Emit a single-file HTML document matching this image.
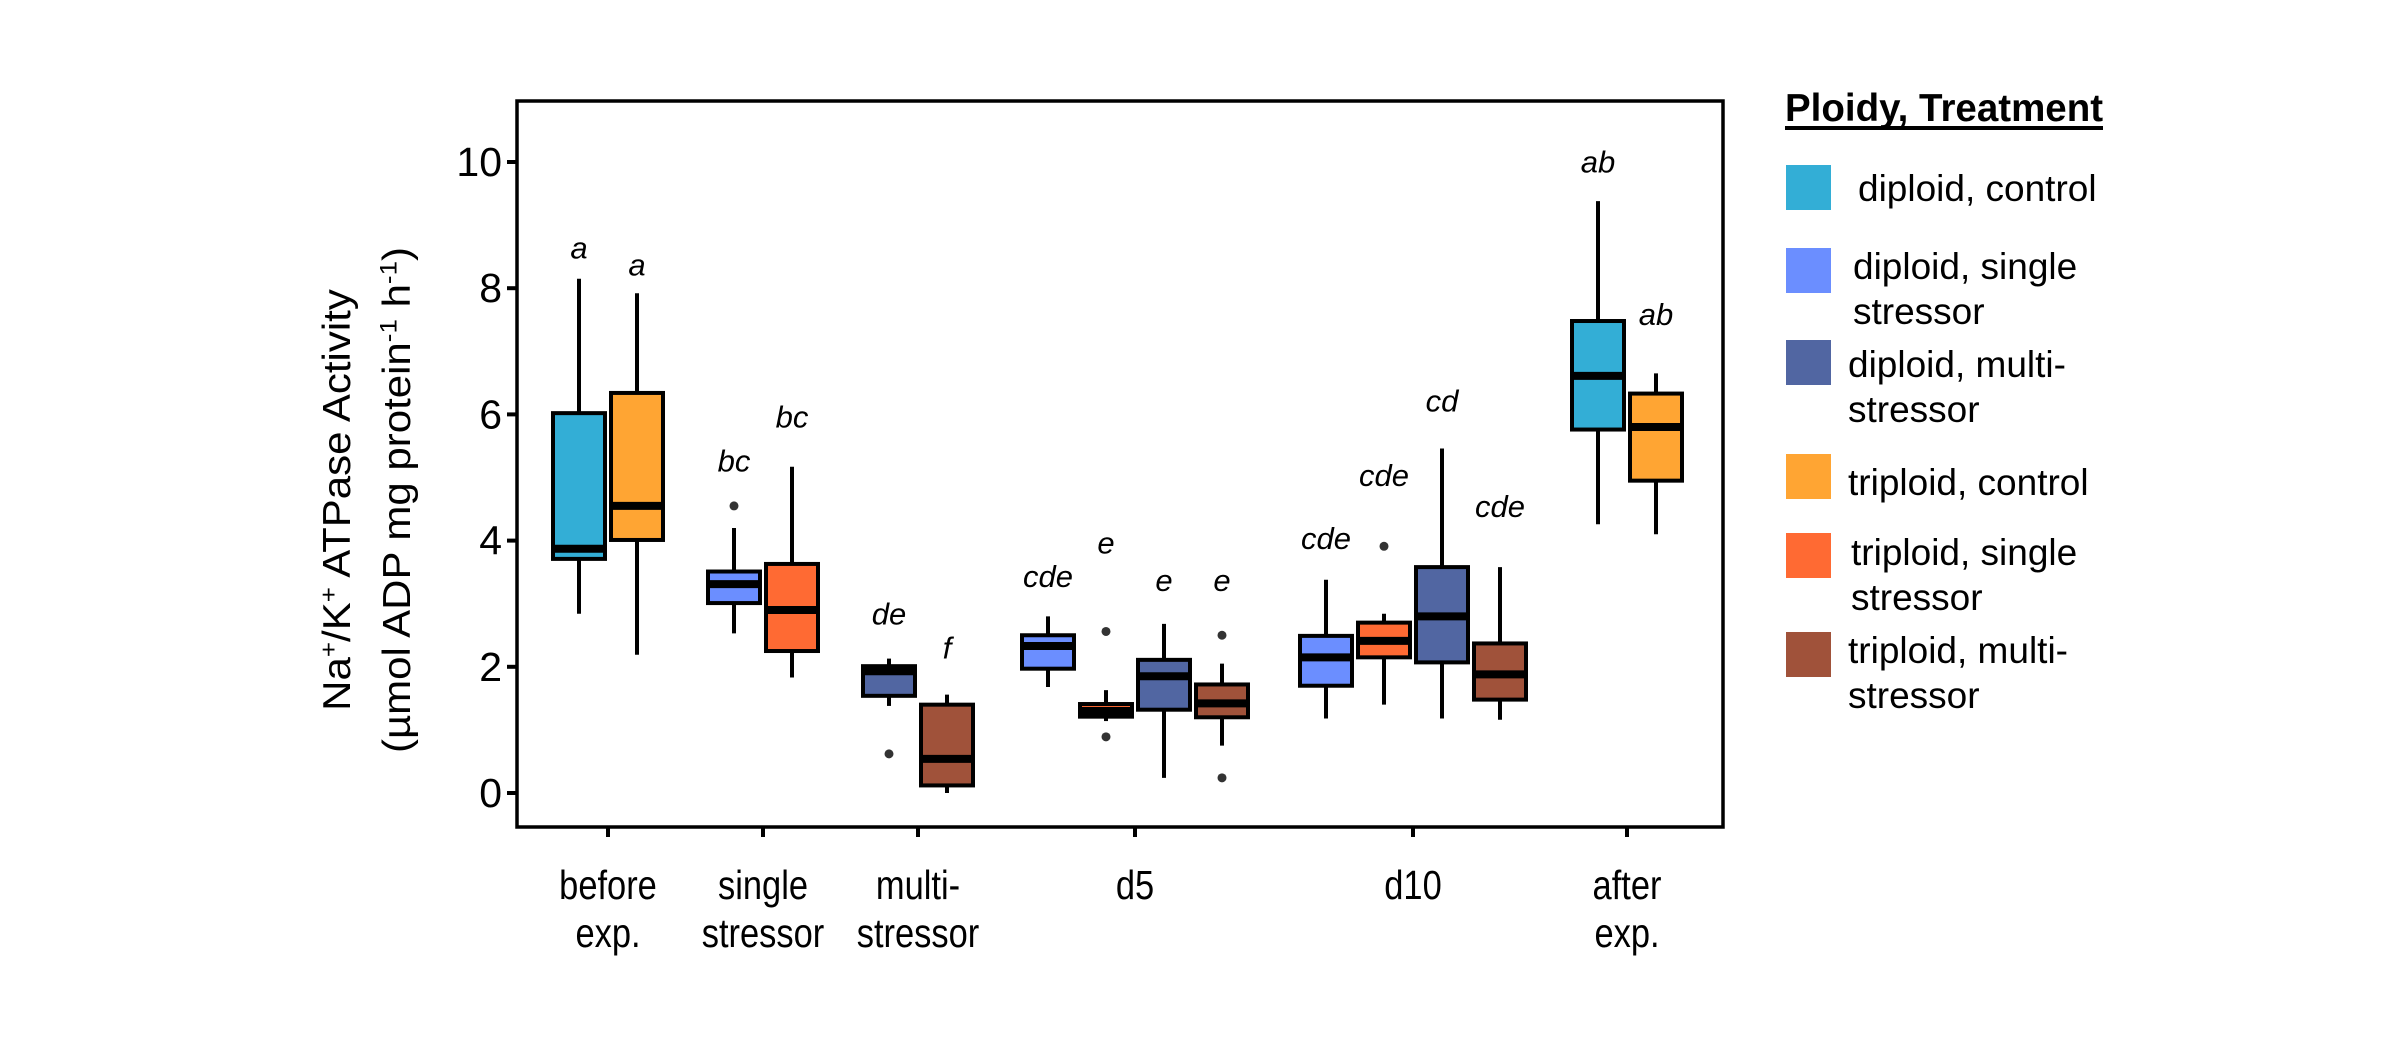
<!DOCTYPE html>
<html><head><meta charset="utf-8">
<style>
html,body{margin:0;padding:0;background:#fff;}
svg{display:block;font-family:"Liberation Sans",Arial,sans-serif;}
</style></head>
<body>
<svg id="chart" width="2400" height="1050" viewBox="0 0 2400 1050">
<rect x="0" y="0" width="2400" height="1050" fill="#fff"/>
<g id="boxes"></g>
<g id="yaxis"></g>
<g id="xaxis"></g>
<rect x="517" y="101" width="1206" height="726" fill="none" stroke="#000" stroke-width="3.5"/>
<g font-size="42" fill="#000" text-anchor="middle">
<text transform="translate(350,500) rotate(-90) scale(1,0.92)">Na<tspan baseline-shift="super" font-size="26">+</tspan>/K<tspan baseline-shift="super" font-size="26">+</tspan> ATPase Activity</text>
<text transform="translate(410,500) rotate(-90) scale(1,0.92)">(µmol ADP mg protein<tspan baseline-shift="super" font-size="26">-1</tspan> h<tspan baseline-shift="super" font-size="26">-1</tspan>)</text>
</g>
<g id="legend"></g>
</svg>
<script>
const categories = ["before exp.","single stressor","multi- stressor","d5","d10","after exp."];
const catLines = [["before","exp."],["single","stressor"],["multi-","stressor"],["d5"],["d10"],["after","exp."]];
const seriesNames = ["diploid, control","diploid, single stressor","diploid, multi- stressor","triploid, control","triploid, single stressor","triploid, multi- stressor"];
const seriesColors = ["#33AED6","#6B8EFF","#5166A2","#FFA533","#FF6A33","#A0523A"];
// each box: [category index, series index]
const boxCat =    [0,0, 1,1, 2,2, 3,3,3,3, 4,4,4,4, 5,5];
const boxSeries = [0,3, 1,4, 2,5, 1,4,2,5, 1,4,2,5, 0,3];
const wLow =  [2.84,2.19, 2.53,1.83, 1.38,0.00, 1.68,1.14,0.24,0.75, 1.18,1.40,1.18,1.16, 4.26,4.10];
const q1 =    [3.71,4.01, 3.01,2.25, 1.54,0.12, 1.97,1.21,1.32,1.20, 1.70,2.15,2.07,1.48, 5.76,4.95];
const med =   [3.87,4.55, 3.31,2.90, 1.93,0.54, 2.33,1.30,1.85,1.42, 2.15,2.41,2.80,1.88, 6.61,5.80];
const q3 =    [6.02,6.34, 3.51,3.63, 2.01,1.40, 2.50,1.41,2.11,1.72, 2.49,2.70,3.58,2.37, 7.48,6.33];
const wHigh = [8.15,7.92, 4.20,5.17, 2.13,1.56, 2.80,1.63,2.68,2.05, 3.38,2.84,5.46,3.58, 9.38,6.65];
const outliers = [[],[], [4.55],[], [0.62],[], [],[2.56,0.89],[],[2.50,0.24], [],[3.91],[],[], [],[]];
const letters = ["a","a","bc","bc","de","f","cde","e","e","e","cde","cde","cd","cde","ab","ab"];
const letterY = [8.64,8.37, 5.26,5.96, 2.84,2.30, 3.43,3.96,3.37,3.37, 4.03,5.03,6.21,4.54, 10.0,7.58];
const yTicks = [0,2,4,6,8,10];

const NS="http://www.w3.org/2000/svg";
const catX=[608,763,918,1135,1413,1627];
const y=v=>793-v*63.1;
const spacing=58, bw=52;
function mk(tag,attrs,parent){const e=document.createElementNS(NS,tag);for(const k in attrs)e.setAttribute(k,attrs[k]);parent.appendChild(e);return e;}
function xOf(i){
  const c=boxCat[i];
  const idx=[];boxCat.forEach((cc,j)=>{if(cc===c)idx.push(j);});
  const k=idx.indexOf(i),n=idx.length;
  return catX[c]+(k-(n-1)/2)*spacing;
}
const gB=document.getElementById('boxes');
for(let i=0;i<boxCat.length;i++){
  const cx=xOf(i);
  const g=mk('g',{},gB);
  
  
  mk('line',{x1:cx,x2:cx,y1:y(wHigh[i]),y2:y(wLow[i]),stroke:'#000','stroke-width':4},g);
  mk('rect',{x:cx-bw/2,y:y(q3[i]),width:bw,height:y(q1[i])-y(q3[i]),fill:seriesColors[boxSeries[i]],stroke:'#000','stroke-width':4},g);
  mk('line',{x1:cx-bw/2,x2:cx+bw/2,y1:y(med[i]),y2:y(med[i]),stroke:'#000','stroke-width':8},g);
  outliers[i].forEach(o=>{
    const c=mk('circle',{cx:cx,cy:y(o),r:4.5,fill:'#333'},g);
    
    
  });
  const t=mk('text',{x:cx,y:y(letterY[i]),'text-anchor':'middle','dominant-baseline':'central','font-size':31,'font-style':'italic',fill:'#000'},g);
  t.textContent=letters[i];
  
  
}
const gY=document.getElementById('yaxis');
yTicks.forEach(v=>{
  mk('line',{x1:507,x2:517,y1:y(v),y2:y(v),stroke:'#000','stroke-width':4},gY);
  const t=mk('text',{x:502,y:y(v)+14,'text-anchor':'end','font-size':41,fill:'#000'},gY);
  t.textContent=v;
  
  
});
const gX=document.getElementById('xaxis');
categories.forEach((c,i)=>{
  mk('line',{x1:catX[i],x2:catX[i],y1:827,y2:837,stroke:'#000','stroke-width':4},gX);
  const t=mk('text',{transform:'translate('+catX[i]+',899) scale(0.84,1)','text-anchor':'middle','font-size':41,fill:'#000'},gX);
  
  
  catLines[i].forEach((l,k)=>{const s=mk('tspan',{x:0,dy:k?48:0},t);s.textContent=l;});
});
const gL=document.getElementById('legend');
const lt=mk('text',{x:1785,y:121,'font-size':38.5,'font-weight':'bold',fill:'#000'},gL);
lt.textContent="Ploidy, Treatment";


const ul=mk('rect',{x:1785,y:126,width:318,height:4,fill:'#000'},gL);


const legY=[165,248,340,454,533,632];
const legText=[["diploid, control"],["diploid, single","stressor"],["diploid, multi-","stressor"],["triploid, control"],["triploid, single","stressor"],["triploid, multi-","stressor"]];
const legTX=[1858,1853,1848,1848,1851,1848];
const legTY=[201,279,377,495,565,663];
seriesNames.forEach((s,i)=>{
  const g=mk('g',{},gL);
  
  
  mk('rect',{x:1786,y:legY[i],width:45,height:45,fill:seriesColors[i]},g);
  const t=mk('text',{x:legTX[i],y:legTY[i],'font-size':37,fill:'#000'},g);
  legText[i].forEach((l,k)=>{const sp=mk('tspan',{x:legTX[i],dy:k?45:0},t);sp.textContent=l;});
});
</script>
</body></html>
